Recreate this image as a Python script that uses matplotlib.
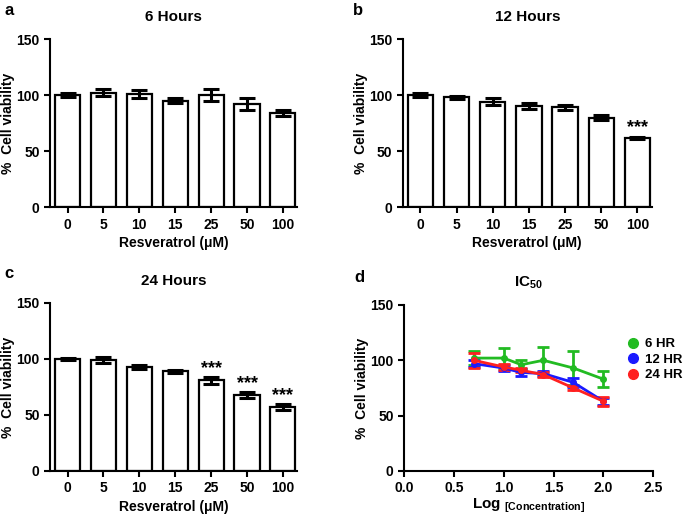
import numpy as np
import matplotlib.pyplot as plt
from matplotlib.lines import Line2D

plt.rcParams['font.family'] = ['Liberation Sans', 'DejaVu Sans']
plt.rcParams['font.weight'] = 'bold'
plt.rcParams['axes.labelweight'] = 'bold'
plt.rcParams['mathtext.fontset'] = 'custom'
plt.rcParams['mathtext.rm'] = 'Liberation Sans:bold'
plt.rcParams['mathtext.bf'] = 'Liberation Sans:bold'
plt.rcParams['mathtext.it'] = 'Liberation Sans:bold'

doses = ['0', '5', '10', '15', '25', '50', '100']

via_6h = [100, 102, 101, 95, 100, 92, 84]
err_6h = [2, 3, 3.5, 2.5, 5, 5.5, 3]

via_12h = [100, 98, 94, 90, 89, 80, 62]
err_12h = [2, 1.5, 3, 2.5, 2, 2.5, 1]
stars_12h = ['', '', '', '', '', '', '***']

via_24h = [100, 99, 93, 89, 81, 68, 57]
err_24h = [1, 2.5, 2, 1.5, 3, 2.5, 3]
stars_24h = ['', '', '', '', '***', '***', '***']

log_conc = [0.699, 1.0, 1.176, 1.398, 1.699, 2.0]
ic_6h = [102, 102, 96, 100, 93, 83]
ic_6h_err = [6, 9, 4, 12, 15, 7]
ic_12h = [97, 93, 89, 88, 80, 63]
ic_12h_err = [3, 3, 3, 2, 4, 3]
ic_24h = [100, 94, 91, 87, 75, 63]
ic_24h_err = [7, 3, 2, 2, 2, 4]

fig = plt.figure(figsize=(6.85, 5.14), dpi=100)


def style_axes(ax, width_px):
    for s in ['top', 'right']:
        ax.spines[s].set_visible(False)
    for s in ['left', 'bottom']:
        ax.spines[s].set_linewidth(1.5)
    ax.tick_params(width=1.5, length=4, labelsize=10, direction='out')
    ax.set_ylim(0, 150)
    ax.set_yticks([0, 50, 100, 150])
    ax.set_ylabel('%  Cell viability', fontsize=10, fontweight='bold')
    ax.yaxis.set_label_coords(-35 / width_px, 0.5)


def bar_panel(rect, vals, errs, title, stars=None):
    ax = fig.add_axes(rect)
    x = np.arange(len(doses))
    ax.bar(x, vals, width=0.7, color='white', edgecolor='black', linewidth=1.6)
    ax.errorbar(x, vals, yerr=errs, fmt='none', ecolor='black', elinewidth=2.2,
                capsize=6, capthick=2.2)
    if stars:
        for xi, v, e, s in zip(x, vals, errs, stars):
            if s:
                ax.text(xi, v + e, s, ha='center', va='bottom', fontsize=13)
    ax.set_xticks(x)
    ax.set_xticklabels(doses)
    ax.set_xlim(-0.49, 6.4)
    style_axes(ax, rect[2] * 685)
    ax.set_xlabel('Resveratrol (\u03bcM)', fontsize=10, fontweight='bold', labelpad=3)
    ax.set_title(title, fontsize=11, fontweight='bold', pad=13)
    return ax


bar_panel([0.073, 0.597, 0.361, 0.327], via_6h, err_6h, '6 Hours')
bar_panel([0.588, 0.597, 0.3635, 0.327], via_12h, err_12h, '12 Hours', stars_12h)
bar_panel([0.073, 0.0837, 0.361, 0.327], via_24h, err_24h, '24 Hours', stars_24h)

ax = fig.add_axes([0.590, 0.0837, 0.3635, 0.323])
for vals, errs, col in [(ic_6h, ic_6h_err, '#22bb22'),
                        (ic_12h, ic_12h_err, '#1a1aff'),
                        (ic_24h, ic_24h_err, '#ff2020')]:
    ax.errorbar(log_conc, vals, yerr=errs, color=col, marker='o', markersize=4,
                linewidth=2, elinewidth=2, capsize=4, capthick=2)
ax.set_xlim(0, 2.5)
ax.set_xticks([0.0, 0.5, 1.0, 1.5, 2.0, 2.5])
ax.set_xticklabels(['0.0', '0.5', '1.0', '1.5', '2.0', '2.5'])
style_axes(ax, 0.3635 * 685)
ax.set_xlabel(r'Log $_{\mathbf{[Concentration]}}$', fontsize=11, fontweight='bold',
              labelpad=1)
ax.set_title(r'IC$_{\mathbf{50}}$', fontsize=11, fontweight='bold', pad=13)
handles = [Line2D([], [], color=c, marker='o', linestyle='none', markersize=7)
           for c in ['#22bb22', '#1a1aff', '#ff2020']]
ax.legend(handles, ['6 HR', '12 HR', '24 HR'], loc='upper left',
          bbox_to_anchor=(0.894, 0.80), frameon=False, handlelength=1,
          handletextpad=0.4, labelspacing=0.25, fontsize=9.5,
          borderpad=0, borderaxespad=0)

fig.text(0.007, 0.98, 'a', fontsize=12, fontweight='bold', va='center')
fig.text(0.515, 0.98, 'b', fontsize=12, fontweight='bold', va='center')
fig.text(0.007, 0.467, 'c', fontsize=12, fontweight='bold', va='center')
fig.text(0.518, 0.461, 'd', fontsize=12, fontweight='bold', va='center')

fig.savefig('out.png', dpi=100)
